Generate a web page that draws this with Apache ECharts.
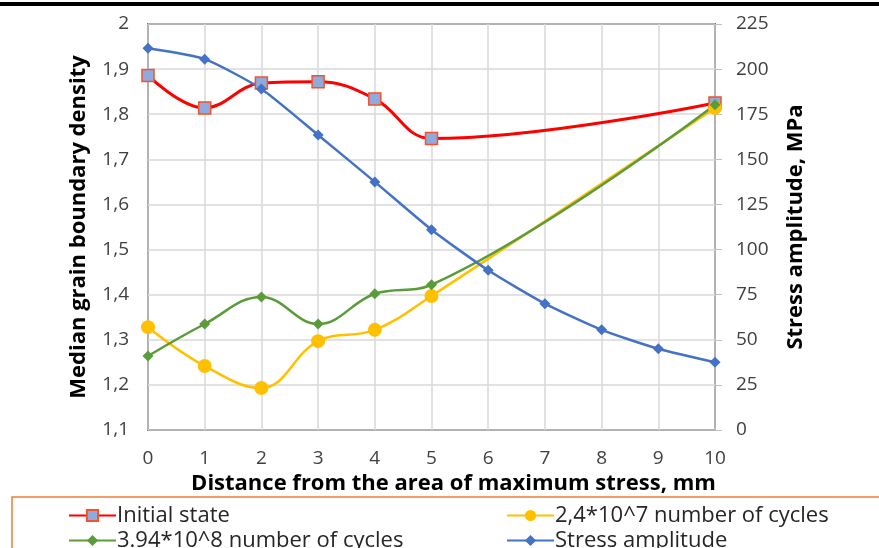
<!DOCTYPE html>
<html>
<head>
<meta charset="utf-8">
<script src="https://cdn.jsdelivr.net/npm/echarts@6/dist/echarts.min.js"></script>
<style>
  html, body { margin: 0; padding: 0; background: #fff; }
  #chart { width: 879px; height: 548px; }
</style>
</head>
<body>
<div id="chart"></div>
<script>
// distances (mm) where the density was measured
const densityX = [0, 1, 2, 3, 4, 5, 10];
const initialState = [1.886, 1.814, 1.869, 1.872, 1.834, 1.746, 1.825];
const cycles24e7 = [1.328, 1.242, 1.193, 1.297, 1.322, 1.397, 1.814];
const cycles394e8 = [1.264, 1.335, 1.395, 1.335, 1.402, 1.422, 1.821];

// stress amplitude, MPa
const stressX = [0, 1, 2, 3, 4, 5, 6, 7, 8, 9, 10];
const stressAmp = [211.5, 205.5, 189, 163.5, 137.5, 111, 88.5, 70, 55.5, 45, 37.5];

const seriesNames = ['Initial state', '2,4*10^7 number of cycles', '3.94*10^8 number of cycles', 'Stress amplitude'];

const pairs = (xs, ys) => xs.map((x, i) => [x, ys[i]]);
const FONT = 'Open Sans';
const titleStyle = { fontSize: 22, fontWeight: 'bold', color: '#000', fontFamily: FONT };
const legendText = { fontSize: 22, lineHeight: 25, color: '#262626', padding: [0, 0, 0, -4] };

const chart = echarts.init(document.getElementById('chart'));
chart.setOption({
  animation: false,
  textStyle: { fontFamily: FONT },
  grid: {
    left: 148, right: 164, top: 24, bottom: 118,
    show: true, borderColor: '#000', borderWidth: 1.5
  },
  xAxis: {
    type: 'value', min: 0, max: 10, interval: 1,
    name: 'Distance from the area of maximum stress, mm',
    nameLocation: 'middle', nameGap: 41,
    nameTextStyle: Object.assign({}, titleStyle, { padding: [0, 0, 0, 44] }),
    axisLine: { show: false },
    axisTick: { show: false },
    axisLabel: { fontSize: 19, color: '#404040', margin: 19 },
    splitLine: { lineStyle: { color: '#d9d9d9', width: 1.5 } }
  },
  yAxis: [
    {
      type: 'value', min: 1.1, max: 2, interval: 0.1,
      name: 'Median grain boundary density',
      nameLocation: 'middle', nameGap: 58, nameRotate: 90,
      nameTextStyle: titleStyle,
      axisLine: { show: false },
      axisTick: { show: false },
      axisLabel: {
        fontSize: 19, color: '#404040', margin: 19,
        formatter: v => String(+v.toFixed(1)).replace('.', ',')
      },
      splitLine: { lineStyle: { color: '#d9d9d9', width: 1.5 } }
    },
    {
      type: 'value', min: 0, max: 225, interval: 25, position: 'right',
      name: 'Stress amplitude, MPa',
      nameLocation: 'middle', nameGap: 70, nameRotate: 90,
      nameTextStyle: titleStyle,
      axisLine: { show: false },
      axisTick: { show: true, length: 7, lineStyle: { color: '#bfbfbf' } },
      axisLabel: { fontSize: 19, color: '#404040', margin: 21 },
      splitLine: { show: false }
    }
  ],
  legend: [
    {
      data: [seriesNames[0], seriesNames[2]],
      orient: 'vertical', left: 63, top: 498, height: 80,
      itemWidth: 47, itemHeight: 14, itemGap: 0,
      textStyle: legendText
    },
    {
      data: [seriesNames[1], seriesNames[3]],
      orient: 'vertical', left: 501, top: 498, height: 80,
      itemWidth: 47, itemHeight: 14, itemGap: 0,
      textStyle: legendText
    }
  ],
  graphic: [
    { type: 'rect', shape: { x: 0, y: 2, width: 879, height: 4 }, style: { fill: '#000' } },
    { type: 'rect', shape: { x: 12, y: 497, width: 900, height: 100 },
      style: { fill: 'none', stroke: '#ED7D31', lineWidth: 1.5 } }
  ],
  series: [
    {
      name: seriesNames[0], type: 'line', smooth: 0.4,
      data: pairs(densityX, initialState),
      symbol: 'rect', symbolSize: 12,
      lineStyle: { color: '#ff0000', width: 3 },
      itemStyle: { color: '#8faadc', borderColor: '#f4512c', borderWidth: 1.5 }
    },
    {
      name: seriesNames[1], type: 'line', smooth: 0.4,
      data: pairs(densityX, cycles24e7),
      symbol: 'circle', symbolSize: 14,
      lineStyle: { color: '#ffc000', width: 2.5 },
      itemStyle: { color: '#ffc000' }
    },
    {
      name: seriesNames[2], type: 'line', smooth: 0.4,
      data: pairs(densityX, cycles394e8),
      symbol: 'diamond', symbolSize: 11,
      lineStyle: { color: '#5b9b3a', width: 2.5 },
      itemStyle: { color: '#5b9b3a' }
    },
    {
      name: seriesNames[3], type: 'line', smooth: 0.2, yAxisIndex: 1,
      data: pairs(stressX, stressAmp),
      symbol: 'diamond', symbolSize: 11,
      lineStyle: { color: '#4472c4', width: 2.5 },
      itemStyle: { color: '#4472c4' }
    }
  ]
});
</script>
</body>
</html>
